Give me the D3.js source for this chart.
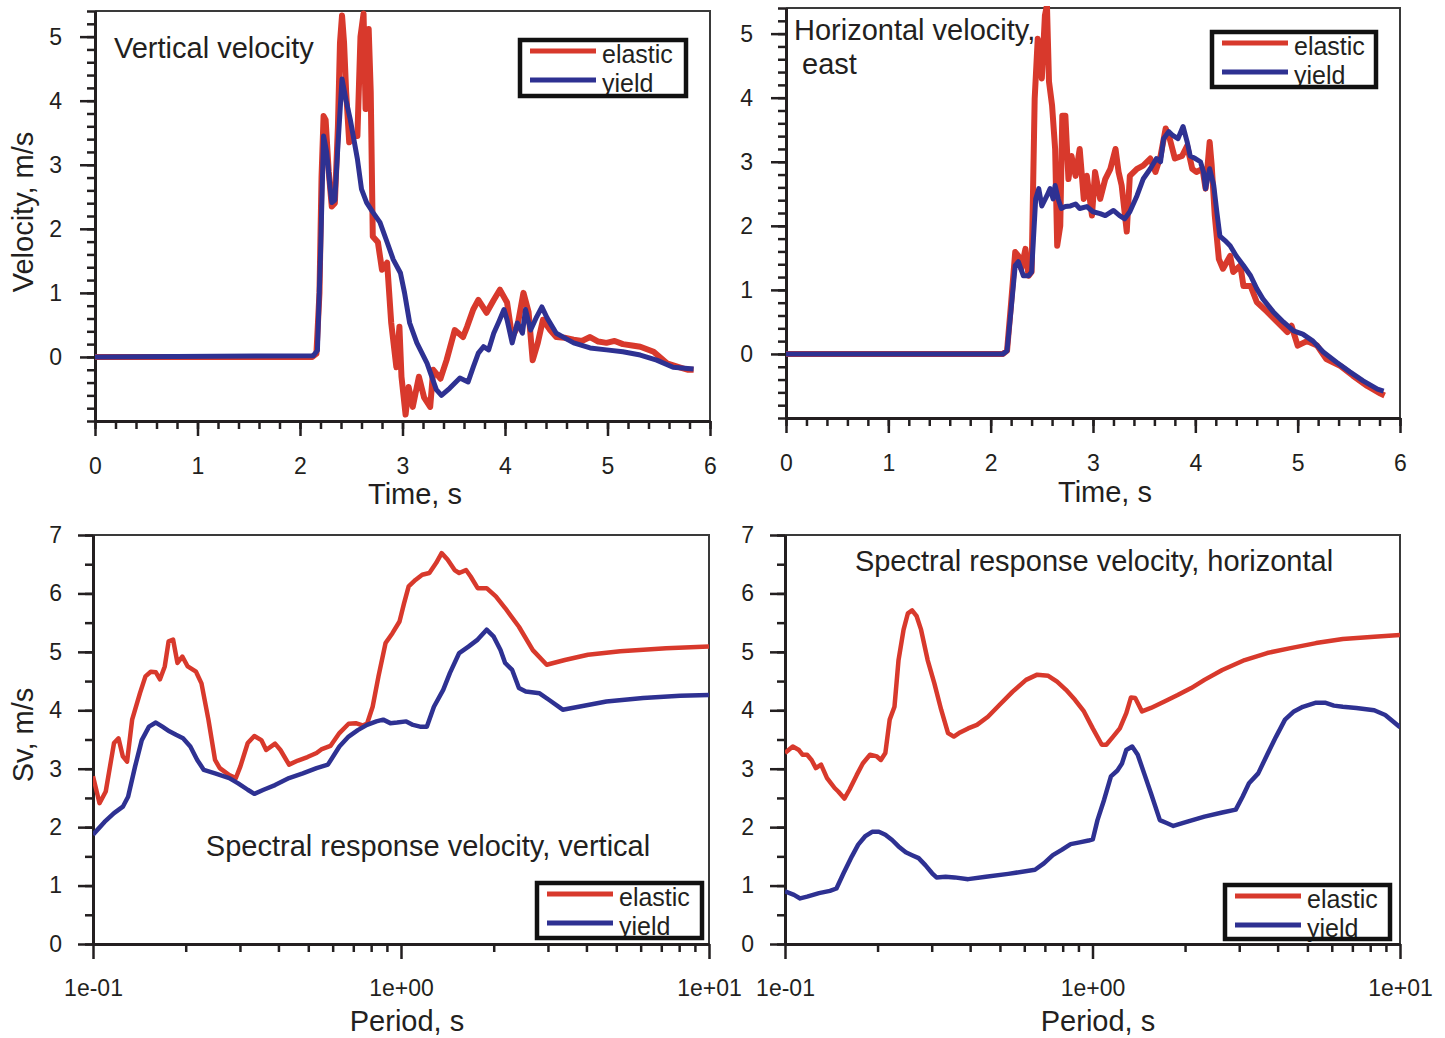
<!DOCTYPE html>
<html>
<head>
<meta charset="utf-8">
<script src="https://cdn.jsdelivr.net/npm/d3@7/dist/d3.min.js"></script>
<style>
body { margin: 0; background: #fff; }
text { font-family: "Liberation Sans", Arial, sans-serif; fill: #231f20; }
</style>
</head>
<body>
<svg id="fig" width="1445" height="1038"></svg>
<script>
// ---- data ----
var seriesNames = ["elastic", "yield"];
var timeTicks = [0, 1, 2, 3, 4, 5, 6];
var velTicks = [0, 1, 2, 3, 4, 5];
var svTicks = [0, 1, 2, 3, 4, 5, 6, 7];
var periodTicks = [0.1, 1, 10];
var periodLabels = ["1e-01", "1e+00", "1e+01"];

// vertical velocity, [time s, m/s]
var vertElastic = [[0,0],[2.12,0],[2.16,0.05],[2.19,1.0],[2.21,2.8],[2.23,3.76],[2.25,3.7],[2.28,2.9],[2.31,2.35],[2.34,2.4],[2.37,3.6],[2.39,4.9],[2.41,5.33],[2.43,4.9],[2.45,4.14],[2.48,3.35],[2.52,3.45],[2.56,3.45],[2.59,5.0],[2.62,5.36],[2.64,3.87],[2.67,5.12],[2.69,4.14],[2.71,1.88],[2.76,1.79],[2.8,1.36],[2.85,1.47],[2.89,0.53],[2.94,-0.16],[2.97,0.47],[2.99,-0.31],[3.03,-0.9],[3.06,-0.47],[3.1,-0.78],[3.16,-0.31],[3.21,-0.63],[3.27,-0.78],[3.3,-0.2],[3.37,-0.34],[3.43,-0.05],[3.51,0.42],[3.59,0.31],[3.63,0.47],[3.69,0.74],[3.74,0.89],[3.82,0.69],[3.89,0.89],[3.95,1.05],[4.02,0.85],[4.07,0.31],[4.12,0.47],[4.18,1.0],[4.23,0.7],[4.27,-0.05],[4.32,0.22],[4.37,0.58],[4.44,0.42],[4.5,0.31],[4.58,0.3],[4.67,0.27],[4.75,0.25],[4.83,0.31],[4.91,0.24],[4.99,0.22],[5.07,0.25],[5.15,0.2],[5.24,0.18],[5.32,0.16],[5.45,0.08],[5.58,-0.1],[5.68,-0.15],[5.78,-0.2],[5.84,-0.2]];
var vertYield = [[0,0],[2.13,0.02],[2.17,0.1],[2.2,1.6],[2.23,3.45],[2.26,3.2],[2.29,2.7],[2.31,2.41],[2.34,2.45],[2.37,3.3],[2.41,4.34],[2.45,4.0],[2.49,3.71],[2.56,3.09],[2.6,2.62],[2.65,2.41],[2.71,2.26],[2.78,2.1],[2.85,1.79],[2.91,1.52],[2.98,1.31],[3.02,1.0],[3.07,0.53],[3.14,0.22],[3.24,-0.1],[3.33,-0.51],[3.38,-0.6],[3.46,-0.49],[3.56,-0.33],[3.64,-0.39],[3.69,-0.16],[3.74,0.06],[3.79,0.16],[3.84,0.11],[3.89,0.37],[3.94,0.55],[3.99,0.74],[4.02,0.58],[4.07,0.22],[4.12,0.53],[4.17,0.37],[4.2,0.74],[4.25,0.42],[4.31,0.63],[4.36,0.78],[4.41,0.61],[4.5,0.37],[4.67,0.22],[4.83,0.14],[4.99,0.11],[5.15,0.08],[5.32,0.03],[5.48,-0.05],[5.64,-0.16],[5.84,-0.19]];

// horizontal velocity, east, [time s, m/s]
var eastElastic = [[0,0],[2.12,0],[2.16,0.05],[2.2,0.8],[2.24,1.59],[2.27,1.53],[2.3,1.33],[2.34,1.64],[2.37,1.22],[2.4,1.28],[2.43,3.98],[2.46,4.92],[2.5,4.3],[2.53,5.28],[2.55,5.44],[2.57,4.25],[2.6,3.88],[2.63,3.2],[2.65,1.69],[2.68,2.0],[2.7,3.72],[2.73,3.72],[2.76,2.73],[2.79,3.09],[2.83,2.78],[2.87,3.2],[2.91,2.42],[2.94,2.78],[2.99,2.16],[3.02,2.84],[3.07,2.42],[3.12,2.73],[3.17,2.89],[3.22,3.2],[3.25,2.84],[3.28,2.63],[3.33,1.91],[3.36,2.78],[3.43,2.89],[3.49,2.94],[3.56,3.05],[3.61,2.84],[3.66,3.09],[3.71,3.52],[3.75,3.36],[3.8,3.05],[3.87,3.09],[3.92,3.25],[3.97,2.89],[4.01,2.84],[4.07,2.89],[4.1,2.58],[4.14,3.31],[4.16,2.94],[4.19,2.16],[4.23,1.48],[4.27,1.33],[4.34,1.53],[4.37,1.28],[4.44,1.38],[4.47,1.06],[4.54,1.06],[4.6,0.81],[4.7,0.66],[4.8,0.5],[4.9,0.34],[4.94,0.44],[5.0,0.13],[5.09,0.2],[5.19,0.13],[5.28,-0.08],[5.42,-0.19],[5.54,-0.34],[5.68,-0.5],[5.81,-0.62],[5.85,-0.65]];
var eastYield = [[0,0],[2.12,0],[2.16,0.05],[2.2,0.7],[2.24,1.38],[2.27,1.44],[2.32,1.22],[2.37,1.22],[2.4,1.28],[2.44,2.42],[2.47,2.58],[2.5,2.31],[2.55,2.47],[2.58,2.58],[2.61,2.42],[2.63,2.63],[2.66,2.42],[2.69,2.27],[2.73,2.3],[2.78,2.31],[2.83,2.34],[2.87,2.27],[2.94,2.3],[3.0,2.22],[3.07,2.19],[3.12,2.16],[3.2,2.24],[3.26,2.16],[3.31,2.11],[3.36,2.22],[3.43,2.47],[3.49,2.73],[3.56,2.89],[3.62,3.05],[3.66,3.0],[3.69,3.36],[3.74,3.47],[3.78,3.41],[3.83,3.36],[3.88,3.55],[3.92,3.31],[3.95,3.09],[4.0,3.05],[4.05,3.0],[4.08,2.84],[4.1,2.58],[4.14,2.89],[4.18,2.63],[4.21,2.22],[4.24,1.84],[4.29,1.77],[4.34,1.69],[4.4,1.53],[4.47,1.38],[4.54,1.22],[4.6,1.02],[4.66,0.86],[4.76,0.66],[4.86,0.5],[4.96,0.36],[5.05,0.31],[5.15,0.2],[5.25,0.03],[5.38,-0.13],[5.51,-0.28],[5.64,-0.42],[5.78,-0.55],[5.84,-0.58]];

// spectral response velocity, vertical, [period s, m/s]
var svVertElastic = [[0.100,2.87],[0.105,2.41],[0.110,2.61],[0.117,3.44],[0.121,3.52],[0.125,3.21],[0.129,3.12],[0.134,3.84],[0.142,4.29],[0.148,4.58],[0.154,4.66],[0.160,4.65],[0.165,4.53],[0.171,4.75],[0.176,5.18],[0.182,5.21],[0.188,4.81],[0.195,4.92],[0.203,4.75],[0.216,4.66],[0.225,4.46],[0.237,3.84],[0.249,3.15],[0.258,3.01],[0.277,2.89],[0.291,2.84],[0.301,3.04],[0.318,3.44],[0.334,3.56],[0.352,3.49],[0.365,3.32],[0.390,3.43],[0.406,3.32],[0.433,3.07],[0.463,3.14],[0.497,3.20],[0.532,3.27],[0.551,3.33],[0.590,3.39],[0.631,3.61],[0.676,3.77],[0.713,3.78],[0.750,3.74],[0.776,3.77],[0.809,4.06],[0.845,4.58],[0.891,5.15],[0.938,5.32],[0.989,5.52],[1.023,5.83],[1.059,6.12],[1.114,6.23],[1.172,6.32],[1.236,6.35],[1.300,6.52],[1.355,6.69],[1.416,6.58],[1.493,6.40],[1.545,6.35],[1.626,6.40],[1.683,6.29],[1.774,6.09],[1.897,6.09],[2.032,5.95],[2.178,5.75],[2.415,5.43],[2.679,5.03],[2.972,4.78],[3.404,4.86],[4.046,4.95],[5.152,5.01],[7.261,5.06],[10.0,5.09]];
var svVertYield = [[0.100,1.87],[0.109,2.09],[0.117,2.24],[0.125,2.35],[0.130,2.52],[0.137,3.04],[0.144,3.49],[0.152,3.72],[0.160,3.79],[0.168,3.72],[0.177,3.64],[0.186,3.58],[0.196,3.52],[0.207,3.38],[0.218,3.15],[0.229,2.98],[0.249,2.92],[0.277,2.84],[0.296,2.75],[0.318,2.64],[0.334,2.57],[0.358,2.64],[0.390,2.72],[0.433,2.84],[0.480,2.92],[0.532,3.01],[0.579,3.07],[0.631,3.38],[0.676,3.55],[0.724,3.66],[0.776,3.75],[0.832,3.81],[0.875,3.84],[0.923,3.78],[0.971,3.79],[1.040,3.81],[1.094,3.75],[1.153,3.72],[1.213,3.72],[1.279,4.06],[1.371,4.35],[1.442,4.64],[1.545,4.98],[1.656,5.09],[1.774,5.21],[1.897,5.38],[2.000,5.26],[2.104,5.03],[2.178,4.81],[2.296,4.69],[2.415,4.38],[2.541,4.32],[2.818,4.29],[3.020,4.18],[3.350,4.01],[3.776,4.06],[4.645,4.15],[6.109,4.21],[8.054,4.25],[10.0,4.26]];

// spectral response velocity, horizontal, [period s, m/s]
var svHorElastic = [[0.100,3.27],[0.106,3.38],[0.111,3.32],[0.114,3.24],[0.118,3.24],[0.122,3.15],[0.126,3.01],[0.131,3.07],[0.137,2.84],[0.145,2.67],[0.149,2.61],[0.156,2.49],[0.162,2.64],[0.171,2.89],[0.179,3.09],[0.189,3.24],[0.199,3.21],[0.205,3.15],[0.212,3.27],[0.219,3.84],[0.227,4.06],[0.234,4.86],[0.243,5.38],[0.251,5.66],[0.259,5.71],[0.268,5.61],[0.277,5.38],[0.291,4.86],[0.306,4.46],[0.322,4.01],[0.339,3.61],[0.354,3.55],[0.368,3.61],[0.394,3.69],[0.421,3.75],[0.457,3.89],[0.498,4.09],[0.550,4.32],[0.608,4.52],[0.661,4.61],[0.718,4.59],[0.767,4.49],[0.820,4.35],[0.877,4.18],[0.938,3.98],[1.002,3.69],[1.072,3.41],[1.109,3.41],[1.167,3.55],[1.227,3.69],[1.288,3.95],[1.334,4.22],[1.377,4.21],[1.449,3.98],[1.549,4.04],[1.714,4.15],[1.892,4.26],[2.094,4.38],[2.312,4.52],[2.642,4.69],[3.126,4.86],[3.698,4.98],[4.365,5.06],[5.333,5.15],[6.516,5.22],[8.241,5.26],[10.0,5.29]];
var svHorYield = [[0.100,0.90],[0.107,0.84],[0.112,0.78],[0.118,0.81],[0.129,0.87],[0.140,0.91],[0.147,0.95],[0.155,1.21],[0.165,1.50],[0.173,1.70],[0.182,1.84],[0.192,1.92],[0.202,1.92],[0.212,1.87],[0.223,1.78],[0.234,1.67],[0.247,1.57],[0.259,1.52],[0.272,1.47],[0.286,1.35],[0.301,1.21],[0.311,1.14],[0.333,1.15],[0.356,1.14],[0.394,1.11],[0.450,1.15],[0.532,1.20],[0.650,1.27],[0.695,1.38],[0.743,1.52],[0.794,1.61],[0.849,1.71],[0.908,1.74],[0.971,1.77],[1.002,1.79],[1.038,2.12],[1.091,2.47],[1.148,2.87],[1.205,2.97],[1.247,3.09],[1.288,3.32],[1.346,3.38],[1.403,3.24],[1.472,2.92],[1.549,2.58],[1.656,2.12],[1.742,2.07],[1.832,2.02],[2.023,2.09],[2.312,2.18],[2.642,2.25],[2.924,2.30],[3.076,2.52],[3.228,2.75],[3.459,2.92],[3.698,3.24],[3.954,3.55],[4.227,3.84],[4.519,3.98],[4.831,4.06],[5.333,4.13],[5.702,4.13],[6.095,4.08],[6.516,4.06],[7.211,4.04],[8.241,4.00],[8.954,3.92],[10.0,3.71]];

// ---- drawing ----
var svg = d3.select("#fig");
var red = "#d8392c", blue = "#2e3192";
var ink = "#231f20";

function range(a, b, step) {
  var out = [];
  for (var v = a; v <= b + 1e-9; v += step) out.push(Math.round(v * 100) / 100);
  return out;
}

function styleAxis(sel, size) {
  sel.select(".domain").attr("stroke", ink).attr("stroke-width", 3);
  sel.selectAll(".tick line").attr("stroke", ink).attr("stroke-width", 2.5);
  sel.selectAll(".tick text").attr("font-size", size).attr("fill", ink)
    .style("font-family", '"Liberation Sans", Arial, sans-serif');
}

function drawPanel(p) {
  var g = svg.append("g");
  var x = p.log ? d3.scaleLog().domain([0.1, 10]).range([p.l, p.r])
                : d3.scaleLinear().domain([0, 6]).range([p.l, p.r]);
  var y = d3.scaleLinear().domain(p.yDom).range([p.b, p.t]);

  svg.append("clipPath").attr("id", "clip" + p.id)
    .append("rect").attr("x", p.l).attr("y", p.t - 2)
    .attr("width", p.r - p.l).attr("height", p.b - p.t + 2);

  // frame top and right
  g.append("path")
    .attr("d", "M" + p.l + "," + p.t + "H" + p.r + "V" + p.b)
    .attr("fill", "none").attr("stroke", "#3a3a3a").attr("stroke-width", 2);

  // minor ticks
  var xMinor = p.log
    ? [0.2,0.3,0.4,0.5,0.6,0.7,0.8,0.9,2,3,4,5,6,7,8,9]
    : range(0, 6, 0.2);
  var yMinor = p.log ? range(0, 7, 0.5) : range(-1, 5.4, 0.2);

  g.append("g").attr("transform", "translate(0," + p.b + ")")
    .call(d3.axisBottom(x).tickValues(xMinor).tickSize(8).tickSizeOuter(0).tickFormat(""))
    .call(styleAxis, 23);
  g.append("g").attr("transform", "translate(" + p.l + ",0)")
    .call(d3.axisLeft(y).tickValues(yMinor).tickSize(8).tickSizeOuter(0).tickFormat(""))
    .call(styleAxis, 23);

  // major ticks with labels
  var xAx = d3.axisBottom(x).tickSize(15).tickSizeOuter(0).tickPadding(p.log ? 21 : 22);
  if (p.log) xAx.tickValues(periodTicks).tickFormat(function (d, i) { return periodLabels[i]; });
  else xAx.tickValues(timeTicks).tickFormat(d3.format("d"));
  g.append("g").attr("transform", "translate(0," + p.b + ")").call(xAx).call(styleAxis, 23);

  var yAx = d3.axisLeft(y).tickSize(15).tickSizeOuter(0).tickPadding(p.log ? 16 : 18)
    .tickValues(p.log ? svTicks : velTicks).tickFormat(d3.format("d"));
  g.append("g").attr("transform", "translate(" + p.l + ",0)").call(yAx).call(styleAxis, 23);

  // curves
  var line = d3.line().x(function (d) { return x(d[0]); }).y(function (d) { return y(d[1]); });
  var lines = g.append("g").attr("clip-path", "url(#clip" + p.id + ")");
  lines.append("path").datum(p.elastic).attr("d", line)
    .attr("fill", "none").attr("stroke", red).attr("stroke-width", p.log ? 4.5 : 6)
    .attr("stroke-linejoin", "round");
  lines.append("path").datum(p.yield).attr("d", line)
    .attr("fill", "none").attr("stroke", blue).attr("stroke-width", p.log ? 4.5 : 5)
    .attr("stroke-linejoin", "round");

  // axis title
  g.append("text").attr("x", p.xTitle[0]).attr("y", p.xTitle[1])
    .attr("text-anchor", "middle").attr("font-size", 29)
    .text(p.log ? "Period, s" : "Time, s");
  if (p.yTitle) {
    g.append("text").attr("transform", "translate(" + p.yTitle[0] + "," + p.yTitle[1] + ") rotate(-90)")
      .attr("text-anchor", "middle").attr("font-size", 29).text(p.yTitle[2]);
  }

  // panel titles
  p.titles.forEach(function (t) {
    g.append("text").attr("x", t[0]).attr("y", t[1])
      .attr("text-anchor", t[3] || "start").attr("font-size", 29).text(t[2]);
  });

  // legend
  var L = p.legend;
  var lg = g.append("g");
  lg.append("rect").attr("x", L[0]).attr("y", L[1]).attr("width", L[2]).attr("height", L[3])
    .attr("fill", "#fff");
  [red, blue].forEach(function (c, i) {
    lg.append("line").attr("x1", L[0] + 10).attr("x2", L[0] + 76)
      .attr("y1", L[1] + 11 + i * 29).attr("y2", L[1] + 11 + i * 29)
      .attr("stroke", c).attr("stroke-width", 5);
    lg.append("text").attr("x", L[0] + 82).attr("y", L[1] + 23 + i * 29)
      .attr("font-size", 25).text(seriesNames[i]);
  });
  lg.append("rect").attr("x", L[0]).attr("y", L[1]).attr("width", L[2]).attr("height", L[3])
    .attr("fill", "none").attr("stroke", "#111").attr("stroke-width", 4.5);
}

drawPanel({
  id: "a", log: false, l: 95, r: 710, t: 11, b: 421, yDom: [-1, 5.4],
  elastic: vertElastic, yield: vertYield,
  xTitle: [415, 504], yTitle: [33, 212, "Velocity, m/s"],
  titles: [[114, 58, "Vertical velocity"]],
  legend: [520, 40, 166, 56]
});
drawPanel({
  id: "b", log: false, l: 786, r: 1400, t: 8, b: 418, yDom: [-1, 5.4],
  elastic: eastElastic, yield: eastYield,
  xTitle: [1105, 502], yTitle: null,
  titles: [[794, 40, "Horizontal velocity,"], [802, 74, "east"]],
  legend: [1212, 32, 164, 55]
});
drawPanel({
  id: "c", log: true, l: 93, r: 709, t: 535, b: 944, yDom: [0, 7],
  elastic: svVertElastic, yield: svVertYield,
  xTitle: [407, 1031], yTitle: [33, 735, "Sv, m/s"],
  titles: [[428, 856, "Spectral response velocity, vertical", "middle"]],
  legend: [537, 883, 165, 55]
});
drawPanel({
  id: "d", log: true, l: 785, r: 1400, t: 535, b: 944, yDom: [0, 7],
  elastic: svHorElastic, yield: svHorYield,
  xTitle: [1098, 1031], yTitle: null,
  titles: [[1094, 571, "Spectral response velocity, horizontal", "middle"]],
  legend: [1225, 885, 165, 54]
});
</script>
</body>
</html>
